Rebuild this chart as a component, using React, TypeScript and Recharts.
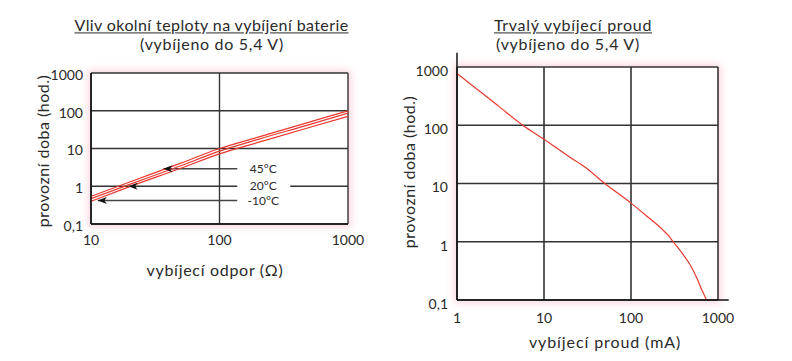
import {
  LineChart,
  Line,
  XAxis,
  YAxis,
  CartesianGrid,
  ReferenceLine,
  ReferenceDot,
} from 'recharts';

// vliv teploty: vybíjecí odpor (Ω) -> provozní doba (hod.)
const resistance = [10, 20, 50, 100, 200, 500, 1000];
const hours45 = [0.54, 1.3, 4.1, 10, 20, 50, 100];
const hours20 = [0.47, 1.12, 3.5, 8.5, 17.5, 43, 87];
const hoursMinus10 = [0.4, 0.98, 3.0, 7.2, 14.5, 36, 71];

// šipky s popisky teplot
const arrowLabels = ['45°C', '20°C', '-10°C'];
const arrowLevels = [2.9, 1, 0.42];
const arrowTips = [36.6, 19.6, 11.3];
const arrowFrom = 140;
const arrowLabelAt = 219;

// trvalý vybíjecí proud (mA) -> provozní doba (hod.)
const current = [1, 2, 3, 5.7, 10, 20, 30, 50, 100, 150, 235, 270, 305, 398, 476, 569, 649, 740];
const hoursCurrent = [771, 343, 213, 100, 57.5, 28, 18.8, 10, 4.6, 2.8, 1.57, 1.27, 1, 0.6, 0.408, 0.241, 0.152, 0.1];

const hourTicks = [0.1, 1, 10, 100, 1000];
const resistanceTicks = [10, 100, 1000];
const currentTicks = [1, 10, 100, 1000];

const FONT = 'Lato, "Liberation Sans", sans-serif';
const RED = '#e8392f';
const GRID = '#333';
const TEXT = '#2a2a2a';

const fmt = (v: number) => String(v).replace('.', ',');

const tempData = resistance.map((r, i) => ({
  r,
  t45: hours45[i],
  t20: hours20[i],
  tm10: hoursMinus10[i],
}));
const currentData = current.map((c, i) => ({ c, h: hoursCurrent[i] }));

function Caption({ x, y, children, rotate = false, size = 16, spacing = 0.6, underline = false }: any) {
  return (
    <div
      style={{
        position: 'absolute',
        left: x,
        top: y,
        transform: `translate(-50%, -50%)${rotate ? ' rotate(-90deg)' : ''}`,
        whiteSpace: 'nowrap',
        fontFamily: FONT,
        fontSize: size,
        letterSpacing: spacing,
        lineHeight: 1.2,
        color: TEXT,
        textDecoration: underline ? 'underline' : 'none',
      }}
    >
      {children}
    </div>
  );
}

function Glow({ left, top, width, height }: any) {
  return (
    <div
      style={{
        position: 'absolute',
        left,
        top,
        width,
        height,
        boxShadow: '0 0 7px 3px rgba(245, 165, 180, 0.45)',
      }}
    />
  );
}

const arrowHead = (p: any) => (
  <path
    d={`M${p.cx},${p.cy} L${p.cx + 9},${p.cy - 3.5} L${p.cx + 6.5},${p.cy} L${p.cx + 9},${p.cy + 3.5} Z`}
    fill="#111"
  />
);

const tempLabel = (text: string) => (p: any) => (
  <g>
    <rect x={p.cx - 26} y={p.cy - 3} width={53} height={6} fill="#fff" />
    <text
      x={p.cx}
      y={p.cy}
      dy="0.35em"
      textAnchor="middle"
      fontSize={12}
      fontFamily={FONT}
      fill={TEXT}
    >
      {text}
    </text>
  </g>
);

const tickStyle = { fill: TEXT, fontSize: 14, fontFamily: FONT };

function TemperatureChart() {
  return (
    <LineChart width={380} height={285} data={tempData} margin={{ top: 73, right: 32, bottom: 0, left: 0 }}>
      <CartesianGrid stroke={GRID} strokeWidth={1.4} />
      <XAxis
        dataKey="r"
        type="number"
        scale="log"
        domain={[10, 1000]}
        ticks={resistanceTicks}
        allowDataOverflow
        height={61}
        tickSize={0}
        tickMargin={11}
        tickLine={false}
        axisLine={{ stroke: '#111', strokeWidth: 1.5 }}
        tick={tickStyle}
      />
      <YAxis
        type="number"
        scale="log"
        domain={[0.1, 1000]}
        ticks={hourTicks}
        allowDataOverflow
        width={91}
        tickSize={0}
        tickMargin={8}
        tickLine={false}
        axisLine={{ stroke: '#111', strokeWidth: 1.5 }}
        tick={{ ...tickStyle, dy: 2 }}
        tickFormatter={fmt}
      />
      {arrowLabels.map((lbl, i) =>
        i === 1 ? null : (
          <ReferenceLine
            key={`seg-${lbl}`}
            segment={[
              { x: arrowFrom, y: arrowLevels[i] },
              { x: arrowTips[i], y: arrowLevels[i] },
            ]}
            stroke="#444"
            strokeWidth={1.4}
          />
        ),
      )}
      {arrowLabels.map((lbl, i) => (
        <ReferenceDot key={`lbl-${lbl}`} x={arrowLabelAt} y={arrowLevels[i]} shape={tempLabel(lbl)} />
      ))}
      <Line dataKey="t45" type="monotone" stroke={RED} strokeWidth={1.2} dot={false} isAnimationActive={false} />
      <Line dataKey="t20" type="monotone" stroke={RED} strokeWidth={1.2} dot={false} isAnimationActive={false} />
      <Line dataKey="tm10" type="monotone" stroke={RED} strokeWidth={1.2} dot={false} isAnimationActive={false} />
      {arrowLabels.map((lbl, i) => (
        <ReferenceDot key={`tip-${lbl}`} x={arrowTips[i]} y={arrowLevels[i]} shape={arrowHead} />
      ))}
    </LineChart>
  );
}

function CurrentChart() {
  return (
    <LineChart width={412} height={361} data={currentData} margin={{ top: 67, right: 74, bottom: 0, left: 0 }}>
      <CartesianGrid stroke={GRID} strokeWidth={1.6} />
      <XAxis
        dataKey="c"
        type="number"
        scale="log"
        domain={[1, 1000]}
        ticks={currentTicks}
        allowDataOverflow
        height={61}
        tickSize={0}
        tickMargin={13}
        tickLine={false}
        axisLine={{ stroke: '#111', strokeWidth: 1.5 }}
        tick={tickStyle}
      />
      <YAxis
        type="number"
        scale="log"
        domain={[0.1, 1000]}
        ticks={hourTicks}
        allowDataOverflow
        width={77}
        tickSize={0}
        tickMargin={9}
        tickLine={false}
        axisLine={{ stroke: '#111', strokeWidth: 1.5 }}
        tick={{ ...tickStyle, dy: 4 }}
        tickFormatter={fmt}
      />
      <ReferenceLine
        segment={[{ x: 1000, y: 0.1 }, { x: 1330, y: 0.1 }]}
        ifOverflow="visible"
        stroke="#111"
        strokeWidth={1.5}
      />
      <ReferenceLine
        segment={[{ x: 1, y: 1000 }, { x: 1, y: 1750 }]}
        ifOverflow="visible"
        stroke="#111"
        strokeWidth={1.5}
      />
      <Line dataKey="h" type="monotone" stroke={RED} strokeWidth={1.2} dot={false} isAnimationActive={false} />
    </LineChart>
  );
}

export default function App() {
  return (
    <div style={{ position: 'absolute', left: 0, top: 0, width: 792, height: 361, background: '#fff', overflow: 'hidden' }}>
      <Glow left={91} top={73} width={257} height={151} />
      <Glow left={457} top={67} width={261} height={233} />
      <div style={{ position: 'absolute', left: 0, top: 0 }}>
        <TemperatureChart />
      </div>
      <div style={{ position: 'absolute', left: 380, top: 0 }}>
        <CurrentChart />
      </div>
      <Caption x={211.5} y={25} spacing={0.4} underline>Vliv okolní teploty na vybíjení baterie</Caption>
      <Caption x={212} y={44} spacing={0.7}>(vybíjeno do 5,4 V)</Caption>
      <Caption x={573} y={25} spacing={0.7} underline>Trvalý vybíjecí proud</Caption>
      <Caption x={568} y={44} spacing={0.7}>(vybíjeno do 5,4 V)</Caption>
      <Caption x={43} y={151} rotate spacing={0.5}>provozní doba (hod.)</Caption>
      <Caption x={409} y={172} rotate spacing={0.5}>provozní doba (hod.)</Caption>
      <Caption x={215} y={270} spacing={0.7}>vybíjecí odpor (Ω)</Caption>
      <Caption x={605} y={342} spacing={0.9}>vybíjecí proud (mA)</Caption>
    </div>
  );
}
